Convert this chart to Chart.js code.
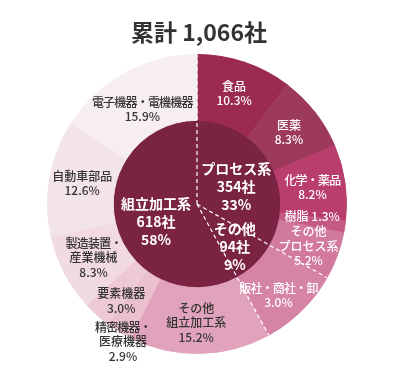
<!DOCTYPE html>
<html><head><meta charset="utf-8">
<script src="https://cdn.jsdelivr.net/npm/chart.js@4/dist/chart.umd.min.js"></script>
<style>
html,body{margin:0;padding:0;background:#fff;}
#wrap{position:relative;width:405px;height:370px;overflow:hidden;}
#title{position:absolute;left:0;top:14px;width:398px;text-align:center;font:bold 23px 'Noto Sans CJK JP';color:#333;line-height:34px;}
canvas{position:absolute;left:0;top:0;}
</style></head><body>
<div id="wrap"><canvas id="c" width="405" height="370"></canvas><div id="title"></div></div>
<script>
// ---- data ----
const chartTitle = '累計 1,066社';
const groupNames = ['プロセス系', 'その他', '組立加工系'];
const groupCounts = [354, 94, 618];
const groupShares = [33, 9, 58];
const subNames = ['食品', '医薬', '化学・薬品', '樹脂', 'その他\nプロセス系', '販社・商社・卸', 'その他（残り）',
  'その他\n組立加工系', '精密機器・\n医療機器', '要素機器', '製造装置・\n産業機械', '自動車部品', '電子機器・電機機器'];
const subShares = [10.3, 8.3, 8.2, 1.3, 5.2, 3.0, 5.8, 15.2, 2.9, 3.0, 8.3, 12.6, 15.9];
const subLabelShown = [true, true, true, true, true, true, false, true, true, true, true, true, true];

// ---- styles ----
const innerColor = '#7b2343';
const subColors = ['#9b2a4f', '#9d3a5c', '#b93e6c', '#c45a83', '#d27a9d', '#d684a6', '#d684a6',
  '#e1a3bb', '#eabfcf', '#edc9d6', '#f1dae3', '#f3e4ea', '#f6eef2'];
const subTextColors = ['#fff', '#fff', '#fff', '#fff', '#fff', '#fff', '#fff',
  '#333', '#333', '#333', '#333', '#333', '#333'];
// label placement: radius (px from centre) overrides and pixel nudges
const subLabelRadius = [null, null, null, null, 118, null, null, null, 157, 125, null, null, 110];
const subLabelDx = [0, 0, 0, 0, 1, 0, 0, -3, 8, 8, 0, 0, -2];
const subLabelDy = [0, 0, 0, -5, 1, 8, 0, 2, 4, 4, 0, 0, 2];
const groupLabelRadiusFactor = [0.5, 0.66, 0.53];
const groupLabelDx = [3, -1, 2];
const groupLabelDy = [4, 3, 7];

document.getElementById('title').textContent = chartTitle;

const labelPlugin = {
  id: 'labels',
  afterDatasetsDraw(chart) {
    const ctx = chart.ctx;
    const outer = chart.getDatasetMeta(0).data;
    const inner = chart.getDatasetMeta(1).data;
    const cx = inner[0].x, cy = inner[0].y;
    const R = outer[0].outerRadius;
    ctx.save();
    // dashed separators along the group boundaries
    ctx.strokeStyle = '#fff';
    ctx.lineWidth = 1.2;
    ctx.setLineDash([4, 3]);
    inner.forEach(a => {
      ctx.beginPath();
      ctx.moveTo(cx, cy);
      ctx.lineTo(cx + R * Math.cos(a.startAngle), cy + R * Math.sin(a.startAngle));
      ctx.stroke();
    });
    ctx.setLineDash([]);
    ctx.textAlign = 'center';
    ctx.textBaseline = 'middle';
    // outer labels
    subNames.forEach((name, i) => {
      if (!subLabelShown[i]) return;
      const a = outer[i];
      let s = a.startAngle, e = a.endAngle;
      if (i === 5) { e = outer[6].endAngle; }
      const mid = (s + e) / 2;
      const rr = subLabelRadius[i] != null ? subLabelRadius[i] : (a.innerRadius + a.outerRadius) / 2;
      const x = cx + rr * Math.cos(mid) + subLabelDx[i];
      const y = cy + rr * Math.sin(mid) + subLabelDy[i];
      const val = subShares[i].toFixed(1) + '%';
      const lines = i === 3 ? [name + ' ' + val] : name.split('\n').concat([val]);
      ctx.fillStyle = subTextColors[i];
      ctx.font = '500 12px "Noto Sans CJK JP"';
      const lh = 14.5;
      lines.forEach((t, k) => {
        ctx.letterSpacing = t.includes('・') ? '-0.8px' : '0px';
        ctx.fillText(t, x, y + (k - (lines.length - 1) / 2) * lh);
      });
      ctx.letterSpacing = '0px';
    });
    // inner labels
    groupNames.forEach((name, i) => {
      const a = inner[i];
      const mid = (a.startAngle + a.endAngle) / 2;
      const rr = a.outerRadius * groupLabelRadiusFactor[i];
      const x = cx + rr * Math.cos(mid) + groupLabelDx[i];
      const y = cy + rr * Math.sin(mid) + groupLabelDy[i];
      const lines = [name, groupCounts[i] + '社', groupShares[i] + '%'];
      ctx.fillStyle = '#fff';
      ctx.font = 'bold 14px "Noto Sans CJK JP"';
      const lh = 18;
      lines.forEach((t, k) => ctx.fillText(t, x, y + (k - 1) * lh));
    });
    ctx.restore();
  }
};

new Chart(document.getElementById('c'), {
  type: 'doughnut',
  data: {
    labels: subNames,
    datasets: [
      { data: subShares, backgroundColor: subColors, borderColor: subColors, borderWidth: 1, weight: 66 },
      { data: groupCounts, backgroundColor: groupNames.map(() => innerColor), borderColor: groupNames.map(() => innerColor), borderWidth: 1, weight: 84 }
    ]
  },
  options: {
    responsive: false,
    animation: false,
    cutout: 0,
    layout: { padding: { left: 47, right: 58, top: 54, bottom: 16 } },
    plugins: { legend: { display: false }, tooltip: { enabled: false } }
  },
  plugins: [labelPlugin]
});
</script>
</body></html>
